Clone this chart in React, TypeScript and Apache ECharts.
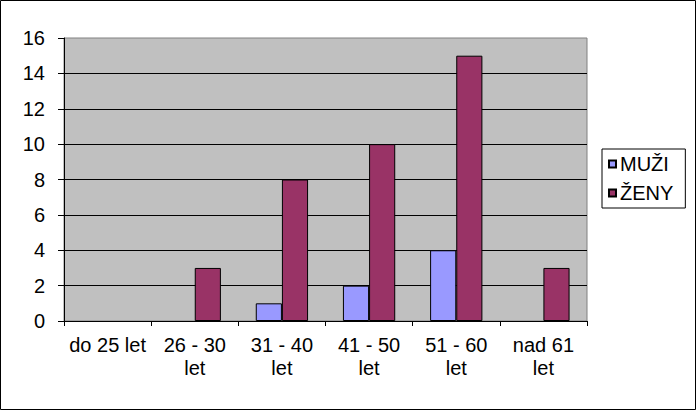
import { useEffect, useRef } from 'react'
import * as echarts from 'echarts'

const categories = ['do 25 let', '26 - 30\nlet', '31 - 40\nlet', '41 - 50\nlet', '51 - 60\nlet', 'nad 61\nlet']
const muzi = [0, 0, 1, 2, 4, 0]
const zeny = [0, 3, 8, 10, 15, 3]

const FONT = 'Arial, "Liberation Sans", sans-serif'

// zero-height bars are not drawn in the original (no border stub)
const hideZero = (arr: number[]) => arr.map((v) => (v === 0 ? '-' : v))

export default function App() {
  const ref = useRef<HTMLDivElement>(null)

  useEffect(() => {
    if (!ref.current) return
    const chart = echarts.init(ref.current, undefined, { renderer: 'svg' })

    chart.setOption({
      animation: false,
      backgroundColor: '#ffffff',
      textStyle: { fontFamily: FONT },
      grid: {
        left: 64, top: 38, right: 109, bottom: 89,
        show: true,
        backgroundColor: '#C0C0C0',
        borderColor: '#808080',
        borderWidth: 1,
      },
      legend: {
        orient: 'vertical',
        left: 602, top: 149,
        padding: [5, 12, 5, 6],
        itemGap: 9,
        itemWidth: 7, itemHeight: 7,
        icon: 'rect',
        backgroundColor: '#ffffff',
        borderColor: '#000000',
        borderWidth: 1,
        borderRadius: 0,
        textStyle: { fontFamily: FONT, fontSize: 20, color: '#000', padding: [0, 0, 0, -1] },
        data: ['MUŽI', 'ŽENY'],
      },
      xAxis: {
        type: 'category',
        data: categories,
        axisLine: { lineStyle: { color: '#000', width: 1 } },
        axisTick: { show: true, length: 5, lineStyle: { color: '#000' } },
        axisLabel: {
          interval: 0, margin: 12, color: '#000',
          fontFamily: FONT, fontSize: 20, lineHeight: 23,
        },
      },
      yAxis: {
        type: 'value',
        min: 0, max: 16, interval: 2,
        axisLine: { show: true, lineStyle: { color: '#000', width: 1 } },
        axisTick: { show: true, length: 6, lineStyle: { color: '#000' } },
        axisLabel: { margin: 19, color: '#000', fontFamily: FONT, fontSize: 20 },
        splitLine: { show: true, showMaxLine: false, lineStyle: { color: '#000', width: 1 } },
      },
      series: [
        {
          name: 'MUŽI', type: 'bar', data: hideZero(muzi),
          barGap: '0%', barCategoryGap: '40%',
          itemStyle: { color: '#9999FF', borderColor: '#000', borderWidth: 1 },
        },
        {
          name: 'ŽENY', type: 'bar', data: hideZero(zeny),
          barGap: '0%', barCategoryGap: '40%',
          itemStyle: { color: '#993366', borderColor: '#000', borderWidth: 1 },
        },
      ],
      graphic: [
        {
          type: 'rect',
          shape: { x: 0.5, y: 0.5, width: 695, height: 409 },
          style: { fill: 'none', stroke: '#000', lineWidth: 1 },
          z: 100,
        },
      ],
    })

    return () => chart.dispose()
  }, [])

  return <div ref={ref} style={{ position: 'fixed', left: 0, top: 0, width: 696, height: 410 }} />
}
